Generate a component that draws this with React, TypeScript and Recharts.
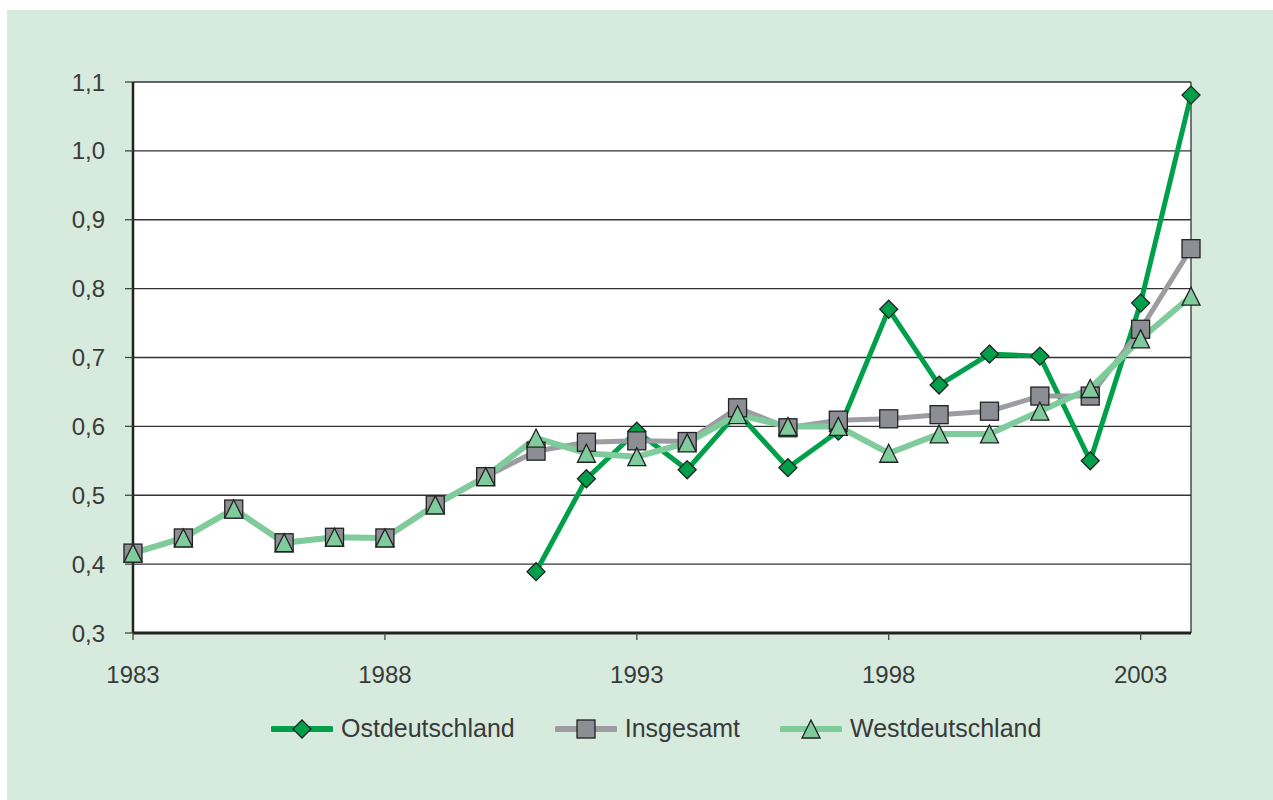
import React from "react";
import {
  LineChart,
  Line,
  XAxis,
  YAxis,
  CartesianGrid,
  ReferenceLine,
} from "recharts";

const years = [
  1983, 1984, 1985, 1986, 1987, 1988, 1989, 1990, 1991, 1992, 1993,
  1994, 1995, 1996, 1997, 1998, 1999, 2000, 2001, 2002, 2003, 2004,
];

const ostdeutschland = [
  null, null, null, null, null, null, null, null,
  0.389, 0.524, 0.593, 0.537, 0.62, 0.54, 0.593, 0.77, 0.66, 0.705, 0.702, 0.55, 0.779, 1.081,
];

const insgesamt = [
  0.416, 0.438, 0.48, 0.431, 0.439, 0.438, 0.486, 0.527, 0.564, 0.577, 0.579,
  0.578, 0.627, 0.598, 0.609, 0.611, 0.617, 0.622, 0.644, 0.644, 0.741, 0.858,
];

const westdeutschland = [
  0.416, 0.438, 0.48, 0.431, 0.439, 0.438, 0.486, 0.527, 0.583, 0.561, 0.556,
  0.576, 0.617, 0.6, 0.6, 0.561, 0.589, 0.589, 0.622, 0.655, 0.727, 0.789,
];

const xTicks = [1983, 1988, 1993, 1998, 2003];
const yTicks = [0.3, 0.4, 0.5, 0.6, 0.7, 0.8, 0.9, 1.0, 1.1];

const seriesNames = ["Ostdeutschland", "Insgesamt", "Westdeutschland"];

const data = years.map((year, i) => ({
  year,
  ost: ostdeutschland[i],
  ins: insgesamt[i],
  west: westdeutschland[i],
}));

const FONT = '"Liberation Sans", Arial, sans-serif';
const TEXT = "#3a3a3a";
const OST = "#00a04b";
const GRAY_LINE = "#9c9da1";
const GRAY_FILL = "#8d8e93";
const WEST = "#7fcb9c";
const EDGE = "#222222";

function Diamond({ cx, cy }: { cx: number; cy: number }) {
  const r = 9;
  return (
    <path
      d={`M${cx},${cy - r}L${cx + r},${cy}L${cx},${cy + r}L${cx - r},${cy}Z`}
      fill={OST}
      stroke={EDGE}
      strokeWidth={1.3}
    />
  );
}

function Square({ cx, cy }: { cx: number; cy: number }) {
  const r = 9;
  return (
    <rect
      x={cx - r}
      y={cy - r}
      width={2 * r}
      height={2 * r}
      fill={GRAY_FILL}
      stroke={EDGE}
      strokeWidth={1.3}
    />
  );
}

function Triangle({ cx, cy }: { cx: number; cy: number }) {
  const r = 9;
  return (
    <path
      d={`M${cx},${cy - r}L${cx + r},${cy + r}L${cx - r},${cy + r}Z`}
      fill={WEST}
      stroke={EDGE}
      strokeWidth={1.3}
    />
  );
}

const makeDot = (Shape: any) => (props: any) => {
  const { cx, cy, index, value } = props;
  if (cx == null || cy == null || value == null) return <g key={`e-${index}`} />;
  return <Shape key={`d-${index}`} cx={cx} cy={cy} />;
};

const fmt = (v: number) => v.toFixed(1).replace(".", ",");

function LegendItem({ name, color, width, Shape }: any) {
  return (
    <div style={{ display: "flex", alignItems: "center" }}>
      <svg width={62} height={24}>
        <line x1={2} y1={12} x2={60} y2={12} stroke={color} strokeWidth={width} strokeLinecap="round" />
        <Shape cx={31} cy={12} />
      </svg>
      <span style={{ marginLeft: 8, fontSize: 25, color: TEXT, fontFamily: FONT }}>{name}</span>
    </div>
  );
}

export default function App() {
  return (
    <div
      style={{
        position: "absolute",
        left: 7,
        top: 10,
        width: 1266,
        height: 790,
        background: "#d6ebdd",
      }}
    >
      <LineChart
        width={1266}
        height={790}
        data={data}
        margin={{ top: 72, right: 82, left: 66, bottom: 107 }}
      >
        <CartesianGrid
          vertical={false}
          stroke="#333"
          strokeWidth={1.3}
          fill="#ffffff"
          fillOpacity={1}
        />
        <ReferenceLine x={2004} stroke="#333" strokeWidth={1.3} />
        <XAxis
          dataKey="year"
          type="number"
          domain={[1983, 2004]}
          ticks={xTicks}
          interval={0}
          height={60}
          tickSize={7}
          tickMargin={26}
          axisLine={{ stroke: "#222", strokeWidth: 3 }}
          tickLine={{ stroke: "#444", strokeWidth: 1.3 }}
          tick={{ fill: TEXT, fontSize: 24, fontFamily: FONT }}
        />
        <YAxis
          type="number"
          domain={[0.3, 1.1]}
          ticks={yTicks}
          interval={0}
          width={60}
          tickSize={8}
          tickMargin={20}
          tickFormatter={fmt}
          axisLine={{ stroke: "#222", strokeWidth: 2.5 }}
          tickLine={{ stroke: "#444", strokeWidth: 1.3 }}
          tick={{ fill: TEXT, fontSize: 24, fontFamily: FONT }}
        />
        <Line
          dataKey="ost"
          name={seriesNames[0]}
          type="linear"
          stroke={OST}
          strokeWidth={5}
          dot={makeDot(Diamond)}
          activeDot={false}
          isAnimationActive={false}
        />
        <Line
          dataKey="ins"
          name={seriesNames[1]}
          type="linear"
          stroke={GRAY_LINE}
          strokeWidth={5}
          dot={makeDot(Square)}
          activeDot={false}
          isAnimationActive={false}
        />
        <Line
          dataKey="west"
          name={seriesNames[2]}
          type="linear"
          stroke={WEST}
          strokeWidth={6}
          dot={makeDot(Triangle)}
          activeDot={false}
          isAnimationActive={false}
        />
      </LineChart>
      <div
        style={{
          position: "absolute",
          left: 264,
          top: 704,
          display: "flex",
          gap: 40,
        }}
      >
        <LegendItem name={seriesNames[0]} color={OST} width={6} Shape={Diamond} />
        <LegendItem name={seriesNames[1]} color={GRAY_LINE} width={6} Shape={Square} />
        <LegendItem name={seriesNames[2]} color={WEST} width={6} Shape={Triangle} />
      </div>
    </div>
  );
}
